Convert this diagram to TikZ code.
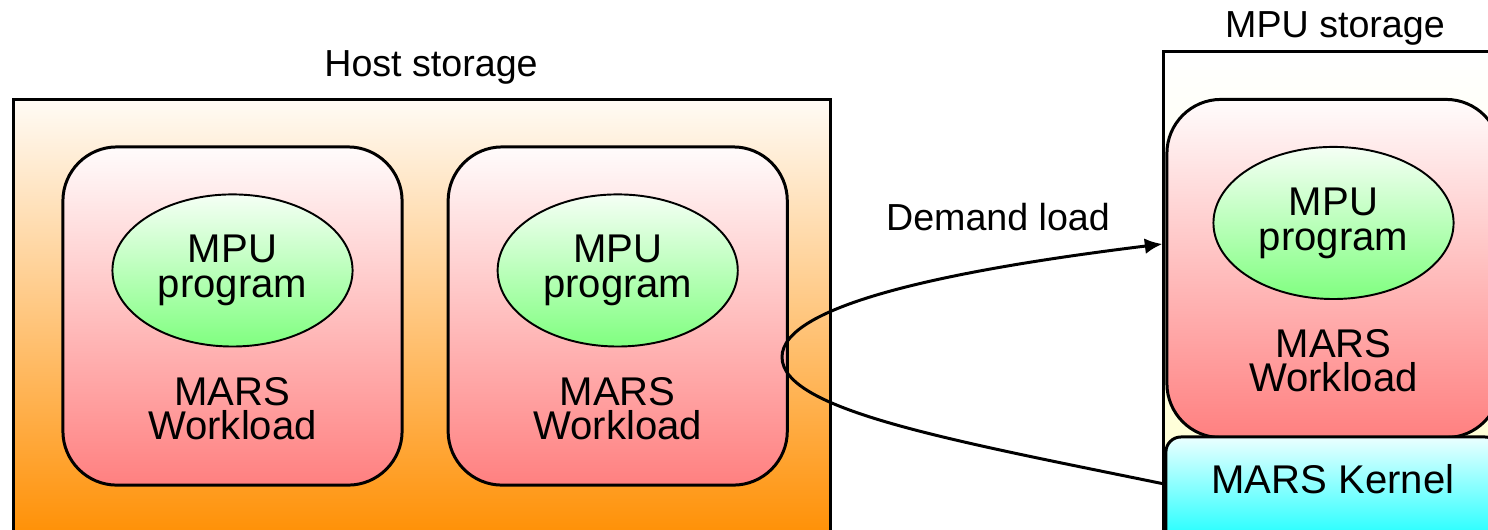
\documentclass[tikz,border=0pt]{standalone}
\usepackage{fontspec}
\setmainfont{Liberation Sans}
\usetikzlibrary{arrows.meta,positioning,shapes.geometric}
\definecolor{hosttop}{RGB}{255,251,245}
\definecolor{hostorange}{RGB}{255,142,0}
\definecolor{wltop}{RGB}{255,252,252}
\definecolor{wlpink}{RGB}{255,128,128}
\definecolor{pgtop}{RGB}{245,255,245}
\definecolor{pggreen}{RGB}{128,255,128}
\definecolor{krntop}{RGB}{235,255,255}
\definecolor{krncyan}{RGB}{20,255,255}
\definecolor{mpuyellow}{RGB}{255,255,205}

\begin{document}
\begin{tikzpicture}[x=0.01cm, y=-0.01cm,
  every node/.style={inner sep=0pt},
  store/.style={draw, line width=0.85pt, rectangle},
  workload/.style={draw, line width=0.85pt, rounded corners=0.54cm,
    top color=wltop, bottom color=wlpink,
    minimum width=3.39cm, minimum height=3.38cm},
  prog/.style={draw, line width=0.55pt, ellipse, top color=pgtop,
    bottom color=pggreen, minimum width=2.4cm, minimum height=1.52cm,
    align=center, font=\fontsize{11.4}{10}\selectfont},
  wltext/.style={align=center, font=\fontsize{11.4}{9.7}\selectfont},
  lbl/.style={font=\fontsize{10.7}{10}\selectfont}]
\useasboundingbox (0,0) rectangle (1488,529);
\clip (0,0) rectangle (1488,529);
% --- Host storage ---
\node[store, top color=hosttop, bottom color=hostorange,
  minimum width=8.16cm, minimum height=4.45cm] (host) at (422,322.5) {};
\node[lbl] (hostlbl) at (431,67) {Host storage};
\node[workload] (wl1) at (232.5,316) {};
\node[workload, right=0.43cm of wl1] (wl2) {};
\node[prog, below=0.48cm of wl1.north] (prog1) {MPU\\program};
\node[prog, below=0.48cm of wl2.north] (prog2) {MPU\\program};
\node[wltext, below=0.29cm of prog1] (wltxt1) {MARS\\Workload};
\node[wltext, below=0.29cm of prog2] (wltxt2) {MARS\\Workload};
% --- MPU storage ---
\node[store, top color=white, bottom color=mpuyellow,
  minimum width=3.46cm, minimum height=4.93cm] (mpustore) at (1337,298.5) {};
\node[lbl] (mpulbl) at (1335,28) {MPU storage};
\node[workload, minimum width=3.33cm] (wl3) at (1333.5,268.5) {};
\node[prog, below=0.48cm of wl3.north] (prog3) {MPU\\program};
\node[wltext, below=0.29cm of prog3] (wltxt3) {MARS\\Workload};
\node[draw, line width=0.85pt, rounded corners=0.15cm, top color=krntop,
  bottom color=krncyan, minimum width=3.34cm, minimum height=1.08cm]
  (kernel) at (1333,491) {};
\node[font=\fontsize{11.4}{10}\selectfont] (kerneltxt)
  at ([yshift=0.12cm]kernel.center) {MARS Kernel};
% --- Demand load ---
\node[lbl] (demand) at (998,217) {Demand load};
\coordinate (turn) at (782,357);
\draw[line width=0.85pt, -{Latex[length=5pt,width=4.5pt]}]
  ([yshift=0.07cm]kernel.west) .. controls (950,440) and (782,410) .. (turn)
  .. controls (782,305) and (950,270) .. ([yshift=0.545cm]mpustore.west);
\end{tikzpicture}
\end{document}
